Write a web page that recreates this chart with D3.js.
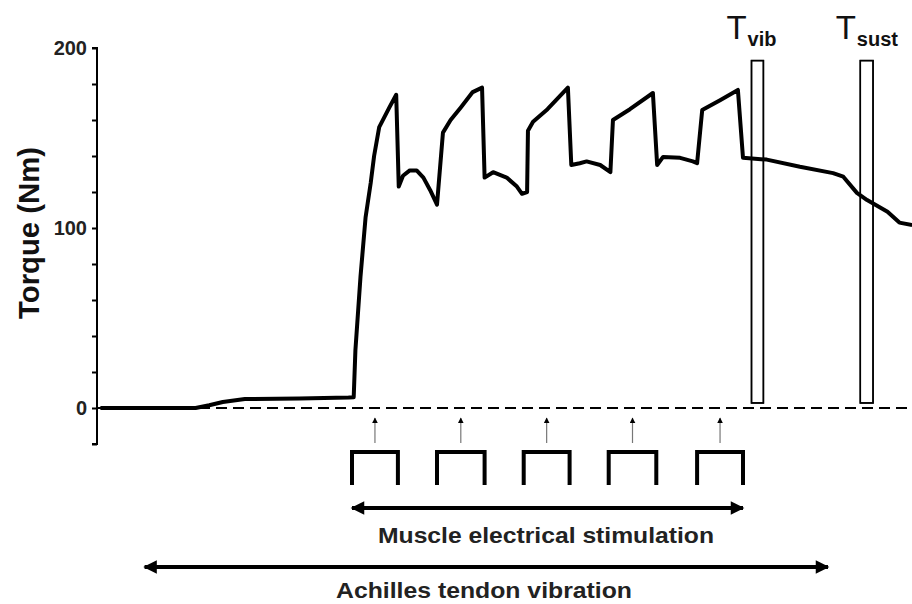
<!DOCTYPE html>
<html><head><meta charset="utf-8">
<script src="https://cdn.jsdelivr.net/npm/d3@7"></script>
<style>html,body{margin:0;padding:0;background:#fff;}svg{display:block;}</style>
</head><body>
<svg id="chart" width="912" height="604"></svg>
<script>
// ---- data ----
const traceTime = [0.2,5.8,6.6,7.4,8.7,11.9,14.8,15.1,15.2,15.5,15.8,16.1,16.3,16.6,17.2,17.6,17.75,18.0,18.4,18.8,19.2,19.6,20.0,20.35,20.8,21.4,22.1,22.65,22.8,23.3,24.1,24.7,25.0,25.3,25.35,25.65,26.5,27.7,27.9,28.4,28.8,29.6,30.2,30.35,31.35,32.7,32.95,33.3,34.3,35.05,35.3,35.6,36.65,37.7,38.0,39.4,41.35,43.3,43.9,44.7,45.3,46.5,47.2,47.95];
const traceTorque = [0,0,1.5,3.3,5,5.3,5.8,6,32,73,106,125,140,156,167,174,123,129,132,132,128,121,113,153,160,167,175.5,178,128,131,128,123,119,120,154,159,166,178,135,136,137,135,131,160,166,175,135,139.5,139,137,136,165.5,171,176.7,139,138,134,130.5,128.5,119.5,115.5,109,103,101.7];
const stimOn  = [15.0,20.0,25.1,30.1,35.3];
const stimOff = [17.7,22.8,27.8,32.9,38.0];
const windowLabels = ["vib","sust"];
const windowStart = [38.5,44.9];
const windowEnd   = [39.2,45.65];
const windowTop = 193, windowBottom = 2.8;
const yTicksMajor = [0,100,200];
const yTicksMinor = [-20,20,40,60,80,120,140,160,180];
const vibrationSpan = [2.8,43.0];
const yLabel = "Torque (Nm)";
const stimLabel = "Muscle electrical stimulation";
const vibLabel = "Achilles tendon vibration";

// ---- scales ----
const svg = d3.select("#chart");
const x = d3.scaleLinear().domain([0,48]).range([97,913]);
const y = d3.scaleLinear().domain([-20,200]).range([444,48]);
const font = "'Liberation Sans', Arial, sans-serif";

// arrow markers
const defs = svg.append("defs");
defs.append("marker").attr("id","ah").attr("viewBox","0 0 10 10").attr("refX",9).attr("refY",5)
  .attr("markerWidth",4).attr("markerHeight",3.4).attr("orient","auto-start-reverse")
  .attr("markerUnits","strokeWidth")
  .append("path").attr("d","M0,0 L10,5 L0,10 Z").attr("fill","#000");
defs.append("marker").attr("id","ahs").attr("viewBox","0 0 10 10").attr("refX",9).attr("refY",5)
  .attr("markerWidth",6).attr("markerHeight",6).attr("orient","auto")
  .attr("markerUnits","userSpaceOnUse")
  .append("path").attr("d","M0,0 L10,5 L0,10 Z").attr("fill","#000");

// zero dashed line
svg.append("line").attr("x1",x(0)).attr("x2",912).attr("y1",y(0)).attr("y2",y(0))
  .attr("stroke","#000").attr("stroke-width",2).attr("stroke-dasharray","11,6");

// y axis
const axis = d3.axisLeft(y).tickValues(yTicksMajor.concat(yTicksMinor).sort((a,b)=>a-b))
  .tickSize(5).tickFormat(d => yTicksMajor.includes(d) ? d : "");
const gA = svg.append("g").attr("transform",`translate(${x(0)},0)`).call(axis);
gA.select(".domain").attr("d",`M-5,${y(200)}H0V${y(-20)}H-5`).attr("stroke","#000").attr("stroke-width",2).attr("fill","none");
gA.selectAll(".tick line").attr("stroke","#000").attr("stroke-width",2);
gA.selectAll(".tick text").attr("font-family",font).attr("font-weight","bold").attr("font-size",20)
  .attr("fill","#222").attr("x",-10);

svg.append("text").attr("transform",`translate(39,${233}) rotate(-90)`).attr("text-anchor","middle")
  .attr("font-family",font).attr("font-weight","bold").attr("font-size",29).attr("fill","#111")
  .attr("textLength",172).attr("lengthAdjust","spacingAndGlyphs").text(yLabel);

// windows
windowStart.forEach((s,i)=>{
  svg.append("rect").attr("x",x(s)).attr("y",y(windowTop)).attr("width",x(windowEnd[i])-x(s))
    .attr("height",y(windowBottom)-y(windowTop)).attr("fill","#fff").attr("stroke","#000").attr("stroke-width",1.5);
});

// trace
const pts = traceTime.map((t,i)=>[t,traceTorque[i]]);
svg.append("path").datum(pts).attr("d",d3.line().x(d=>x(d[0])).y(d=>y(d[1])))
  .attr("fill","none").attr("stroke","#000").attr("stroke-width",4).attr("stroke-linejoin","round");

// redraw window outlines on top (thin) + labels
windowStart.forEach((s,i)=>{
  svg.append("rect").attr("x",x(s)).attr("y",y(windowTop)).attr("width",x(windowEnd[i])-x(s))
    .attr("height",y(windowBottom)-y(windowTop)).attr("fill","none").attr("stroke","#000").attr("stroke-width",1.5);
  const c = (x(s)+x(windowEnd[i]))/2;
  const t = svg.append("text").attr("x",c-31).attr("y",39).attr("font-family",font).attr("fill","#111");
  t.append("tspan").attr("font-size",33).text("T");
  t.append("tspan").attr("font-size",20).attr("font-weight","bold").attr("dx",1).attr("dy",7).text(windowLabels[i]);
});

// stimulation pulses
const pTop = 452, pBot = 485;
stimOn.forEach((s,i)=>{
  const a = x(s), b = x(stimOff[i]);
  svg.append("path").attr("d",`M${a},${pBot}V${pTop}H${b}V${pBot}`).attr("fill","none")
    .attr("stroke","#000").attr("stroke-width",4);
  const m = (a+b)/2;
  svg.append("line").attr("x1",m).attr("x2",m).attr("y1",443).attr("y2",418)
    .attr("stroke","#777").attr("stroke-width",1.2).attr("marker-end","url(#ahs)");
});

// double arrows
function dbl(x1,x2,yy){
  svg.append("line").attr("x1",x1).attr("x2",x2).attr("y1",yy).attr("y2",yy)
    .attr("stroke","#000").attr("stroke-width",4)
    .attr("marker-start","url(#ah)").attr("marker-end","url(#ah)");
}
dbl(x(stimOn[0]), x(stimOff[stimOff.length-1]), 508);
dbl(x(vibrationSpan[0]), x(vibrationSpan[1]), 567);

svg.append("text").attr("x",546).attr("y",543).attr("text-anchor","middle").attr("font-family",font)
  .attr("font-weight","bold").attr("font-size",22).attr("fill","#222")
  .attr("textLength",336).attr("lengthAdjust","spacingAndGlyphs").text(stimLabel);
svg.append("text").attr("x",484).attr("y",598).attr("text-anchor","middle").attr("font-family",font)
  .attr("font-weight","bold").attr("font-size",22).attr("fill","#222")
  .attr("textLength",296).attr("lengthAdjust","spacingAndGlyphs").text(vibLabel);
</script>
</body></html>
